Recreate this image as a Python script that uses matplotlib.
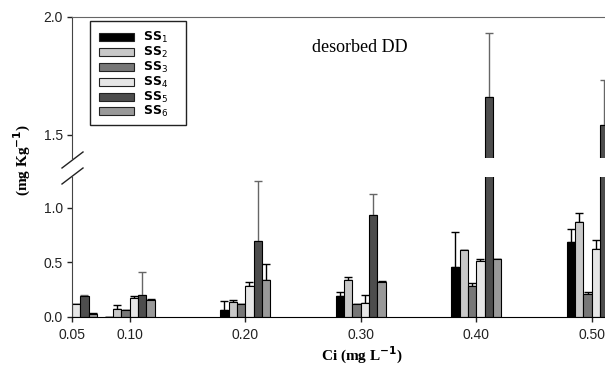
import numpy as np
import matplotlib
matplotlib.use("Agg")
import matplotlib.pyplot as plt
from matplotlib.lines import Line2D
from matplotlib.patches import Rectangle

# ---- data ----
ci = [0.05, 0.10, 0.20, 0.30, 0.40, 0.50]
ci_labels = ["0.05", "0.10", "0.20", "0.30", "0.40", "0.50"]
series = ["SS$_1$", "SS$_2$", "SS$_3$", "SS$_4$", "SS$_5$", "SS$_6$"]
nan = np.nan
ss1 = [nan, 0.00, 0.065, 0.195, 0.46, 0.69]
ss2 = [nan, 0.075, 0.14, 0.335, 0.615, 0.87]
ss3 = [nan, 0.06, 0.115, 0.12, 0.285, 0.21]
ss4 = [0.12, 0.17, 0.285, 0.125, 0.515, 0.62]
ss5 = [0.195, 0.20, 0.70, 0.94, 1.66, 1.54]
ss6 = [0.03, 0.155, 0.34, 0.325, 0.53, nan]
err1 = [nan, 0.0, 0.085, 0.03, 0.32, 0.12]
err2 = [nan, 0.035, 0.02, 0.03, 0.0, 0.08]
err3 = [nan, 0.0, 0.0, 0.0, 0.025, 0.02]
err4 = [0.0, 0.02, 0.035, 0.08, 0.015, 0.09]
err5 = [0.005, 0.21, 0.55, 0.185, 0.27, 0.19]
err6 = [0.005, 0.01, 0.15, 0.005, 0.0, nan]
values = [ss1, ss2, ss3, ss4, ss5, ss6]
errors = [err1, err2, err3, err4, err5, err6]
colors = ["#000000", "#c8c8c8", "#777777", "#e6e6e6", "#4d4d4d", "#999999"]
ecolors = ["#000000", "#000000", "#000000", "#000000", "#666666", "#000000"]

W, H = 605, 365
fig = plt.figure(figsize=(W / 100, H / 100), dpi=100)


def rect(x0, y0, x1, y1):
    return [x0 / W, 1 - y1 / H, (x1 - x0) / W, (y1 - y0) / H]


def fx(px):
    return px / W


def fy(py):
    return 1 - py / H


ax_top = fig.add_axes(rect(72, 17, 605, 158))
ax_bot = fig.add_axes(rect(72, 177, 605, 317))

xlim = (0.05, 0.5115)
bw = 0.0072
x = np.array(ci)
for ax in (ax_top, ax_bot):
    for i, (vals, errs) in enumerate(zip(values, errors)):
        xs = x + (i - 2.5) * bw
        v = np.array(vals, dtype=float)
        e = np.array(errs, dtype=float)
        ax.bar(xs, v, width=bw, color=colors[i], edgecolor="black",
               linewidth=0.8, zorder=2)
        ax.errorbar(xs, v, yerr=[np.zeros_like(e), e], fmt="none",
                    ecolor=ecolors[i], elinewidth=1.0, capsize=3.2,
                    capthick=1.0, zorder=1)
    ax.set_xlim(*xlim)
    ax.spines["right"].set_visible(False)
    ax.tick_params(direction="out", length=3.6, width=1, labelsize=10,
                   colors="#222222", pad=3)

ax_top.set_ylim(1.4, 2.0)
ax_top.set_yticks([1.5, 2.0])
ax_top.set_yticklabels(["1.5", "2.0"], fontfamily="Liberation Sans")
ax_top.spines["bottom"].set_visible(False)
ax_top.spines["top"].set_color("#666666")
ax_top.spines["left"].set_color("#444444")
ax_top.set_xticks([])

ax_bot.set_ylim(0, 1.284)
ax_bot.set_yticks([0.0, 0.5, 1.0])
ax_bot.set_yticklabels(["0.0", "0.5", "1.0"], fontfamily="Liberation Sans")
ax_bot.spines["top"].set_visible(False)
ax_bot.spines["left"].set_color("#444444")
ax_bot.set_xticks(ci)
ax_bot.set_xticklabels(ci_labels, fontfamily="Liberation Sans")
ax_bot.tick_params(axis="x", pad=4)

# break marks
for y0 in (168, 184):
    fig.add_artist(Line2D([fx(62), fx(83)], [fy(y0), fy(y0 - 16)],
                          color="#222222", linewidth=1.0))

# legend (drawn as a box of patches and labels)
fig.add_artist(Rectangle((fx(90), fy(125)), fx(186) - fx(90), fy(21) - fy(125),
                         facecolor="white", edgecolor="#222222",
                         linewidth=1.0, zorder=5))
row_y = [37, 52, 67, 82, 97, 111]
for i, name in enumerate(series):
    yc = row_y[i]
    fig.add_artist(Rectangle((fx(99), fy(yc + 4)), fx(134) - fx(99),
                             fy(yc - 4) - fy(yc + 4), facecolor=colors[i],
                             edgecolor="#222222", linewidth=0.8, zorder=6))
    fig.text(fx(143), fy(yc), name, fontfamily="DejaVu Sans",
             fontweight="bold", fontsize=9, ha="left", va="center",
             zorder=7)

fig.text(fx(360), fy(47), "desorbed DD", fontfamily="Liberation Serif",
         fontsize=13, ha="center", va="center")
fig.text(fx(22), fy(160), "(mg Kg$^{\\mathbf{-1}}$)",
         fontfamily="Liberation Serif", fontweight="bold", fontsize=11,
         rotation=90, ha="center", va="center")
fig.text(fx(362), fy(355), "Ci (mg L$^{\\mathbf{-1}}$)",
         fontfamily="Liberation Serif", fontweight="bold", fontsize=11,
         ha="center", va="center")

fig.savefig("out.png", dpi=100)
